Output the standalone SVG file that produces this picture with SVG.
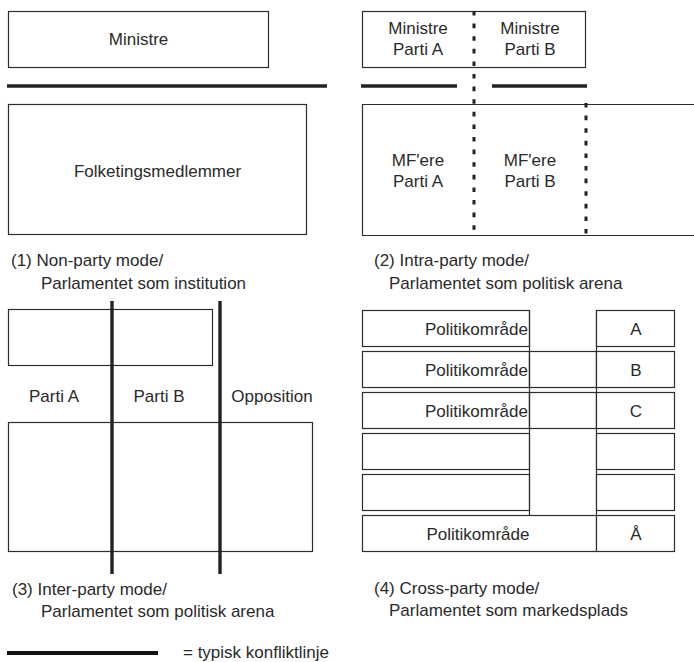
<svg xmlns="http://www.w3.org/2000/svg" width="694" height="662" viewBox="0 0 694 662">
<style>
  .box{fill:#fff;stroke:#2e2e2e;stroke-width:1.2}
  .open{fill:none;stroke:#2e2e2e;stroke-width:1.2}
  .t{font-family:"Liberation Sans",Arial,sans-serif;font-size:17px;fill:#2a2a2a}
  .c{text-anchor:middle}
  .e{text-anchor:end}
  .thick{stroke:#222;stroke-width:3.4;fill:none}
  .dot{stroke:#222;stroke-width:3;fill:none;stroke-dasharray:4.6 8}
</style>
<rect width="694" height="662" fill="#fff"/>

<!-- Panel 1 -->
<g id="p1-ministre"><rect class="box" x="8.5" y="11.5" width="260" height="56"/><text class="t c" x="138.5" y="45">Ministre</text></g>
<g id="p1-folketing"><rect class="box" x="8.5" y="104.5" width="298" height="130"/><text class="t c" x="157.5" y="177">Folketingsmedlemmer</text></g>
<g id="p1-caption"><text class="t" x="11" y="266">(1) Non-party mode/</text><text class="t" x="41" y="289">Parlamentet som institution</text></g>

<!-- Panel 2 -->
<g id="p2-ministre"><rect class="box" x="362.5" y="11.5" width="223" height="56"/>
  <text class="t c" x="418" y="34">Ministre</text><text class="t c" x="418" y="55">Parti A</text>
  <text class="t c" x="530" y="34">Ministre</text><text class="t c" x="530" y="55">Parti B</text></g>
<g id="p2-mf"><path class="open" d="M700,104.5 H362.5 V235.5 H700"/>
  <text class="t c" x="418" y="166">MF'ere</text><text class="t c" x="418" y="187">Parti A</text>
  <text class="t c" x="530" y="166">MF'ere</text><text class="t c" x="530" y="187">Parti B</text></g>
<g id="p2-caption"><text class="t" x="374" y="266">(2) Intra-party mode/</text><text class="t" x="389" y="289">Parlamentet som politisk arena</text></g>

<!-- Panel 3 -->
<g id="p3-top"><rect class="box" x="8.5" y="309.5" width="204" height="56"/></g>
<g id="p3-labels"><text class="t c" x="54" y="402">Parti A</text><text class="t c" x="159" y="402">Parti B</text><text class="t c" x="272" y="402">Opposition</text></g>
<g id="p3-bottom"><rect class="box" x="8.5" y="422.5" width="304" height="129"/></g>
<g id="p3-caption"><text class="t" x="12" y="595">(3) Inter-party mode/</text><text class="t" x="41" y="617">Parlamentet som politisk arena</text></g>

<!-- Panel 4 -->
<g id="p4-rows">
  <rect class="box" x="362.5" y="310.5" width="167" height="36"/>
  <rect class="box" x="362.5" y="351.5" width="167" height="36"/>
  <rect class="box" x="362.5" y="392.5" width="167" height="36"/>
  <rect class="box" x="362.5" y="433.5" width="167" height="36"/>
  <rect class="box" x="362.5" y="474.5" width="167" height="36"/>
  <rect class="box" x="529.5" y="351.5" width="67" height="36"/>
  <rect class="box" x="529.5" y="392.5" width="67" height="36"/>
  <path class="open" d="M529.5,310.5 V515.5 M596.5,310.5 V515.5"/>
  <rect class="box" x="362.5" y="515.5" width="234" height="36"/>
  <rect class="box" x="596.5" y="310.5" width="78" height="36"/>
  <rect class="box" x="596.5" y="351.5" width="78" height="36"/>
  <rect class="box" x="596.5" y="392.5" width="78" height="36"/>
  <rect class="box" x="596.5" y="433.5" width="78" height="36"/>
  <rect class="box" x="596.5" y="474.5" width="78" height="36"/>
  <rect class="box" x="596.5" y="515.5" width="78" height="36"/>
  <text class="t e" x="528" y="335">Politikområde</text>
  <text class="t e" x="528" y="376">Politikområde</text>
  <text class="t e" x="528" y="417">Politikområde</text>
  <text class="t c" x="478" y="540">Politikområde</text>
  <text class="t c" x="636" y="335">A</text>
  <text class="t c" x="636" y="376">B</text>
  <text class="t c" x="636" y="417">C</text>
  <text class="t c" x="636" y="540">Å</text>
</g>
<g id="p4-caption"><text class="t" x="374" y="594">(4) Cross-party mode/</text><text class="t" x="389" y="616">Parlamentet som markedsplads</text></g>

<!-- Conflict lines -->
<g id="connectors">
  <line class="thick" x1="7" y1="86" x2="327" y2="86"/>
  <line class="thick" x1="361" y1="86" x2="457" y2="86"/>
  <line class="thick" x1="492" y1="86" x2="587" y2="86"/>
  <line class="dot" x1="474" y1="11" x2="474" y2="236"/>
  <line class="dot" x1="586" y1="103" x2="586" y2="236"/>
  <line class="thick" x1="112" y1="301" x2="112" y2="574"/>
  <line class="thick" x1="220" y1="301" x2="220" y2="574"/>
</g>

<g id="legend">
  <line stroke="#111" stroke-width="4" x1="7" y1="653" x2="158" y2="653"/>
  <text class="t" x="183" y="658">= typisk konfliktlinje</text>
</g>
</svg>
